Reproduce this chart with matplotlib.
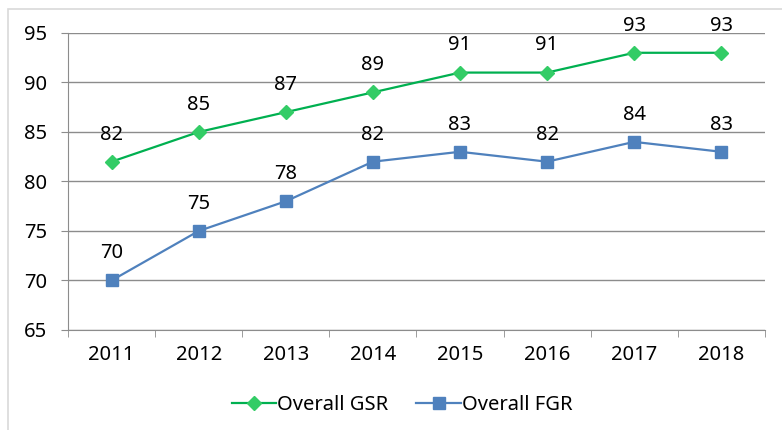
import matplotlib.pyplot as plt
from matplotlib.patches import Rectangle

years = ['2011', '2012', '2013', '2014', '2015', '2016', '2017', '2018']
gsr = [82, 85, 87, 89, 91, 91, 93, 93]
fgr = [70, 75, 78, 82, 83, 82, 84, 83]

plt.rcParams['font.family'] = ['Noto Sans', 'DejaVu Sans']
fs = 14.5

fig = plt.figure(figsize=(7.82, 4.30), dpi=100)
ax = fig.add_axes([0.087, 0.2326, 0.891, 0.6907])

# light frame round the whole chart (right and bottom edges fall outside)
fig.patches.append(Rectangle((8 / 782, -5 / 430), 780 / 782, 426 / 430, transform=fig.transFigure,
                             fill=False, edgecolor='#d9d9d9', linewidth=1.2))

x = list(range(len(years)))
ax.plot(x, gsr, color='#00b050', linewidth=1.6, marker='D', markersize=7,
        markerfacecolor='#33cc66', markeredgecolor='#33cc66', label='Overall GSR')
ax.plot(x, fgr, color='#4f81bd', linewidth=1.6, marker='s', markersize=8.5,
        markerfacecolor='#4f81bd', markeredgecolor='#4f81bd', label='Overall FGR')

for series in (gsr, fgr):
    for xi, v in zip(x, series):
        ax.annotate(str(v), (xi, v), xytext=(0, 19.5), textcoords='offset points',
                    ha='center', va='center', fontsize=fs)

ax.set_xlim(-0.5, len(years) - 0.5)
ax.set_ylim(65, 95)
ax.set_yticks(range(65, 96, 5))
ax.set_xticks(x)
ax.set_xticklabels(years)
ax.set_xticks([i - 0.5 for i in range(len(years) + 1)], minor=True)
ax.tick_params(axis='x', which='major', length=0, pad=11, labelsize=fs)
ax.tick_params(axis='x', which='minor', length=5, color='#8c8c8c')
ax.tick_params(axis='y', length=5, color='#8c8c8c', labelsize=fs, pad=10)

ax.grid(axis='y', color='#8c8c8c', linewidth=1)
ax.set_axisbelow(True)
for s in ['top', 'right']:
    ax.spines[s].set_visible(False)
for s in ['left', 'bottom']:
    ax.spines[s].set_color('#8c8c8c')

ax.legend(loc='center', bbox_to_anchor=(402 / 782, 25 / 430), bbox_transform=fig.transFigure,
          ncol=2, frameon=False, fontsize=fs, handlelength=2.2, handletextpad=0.05,
          columnspacing=1.4)

fig.savefig('out.png', dpi=100)
